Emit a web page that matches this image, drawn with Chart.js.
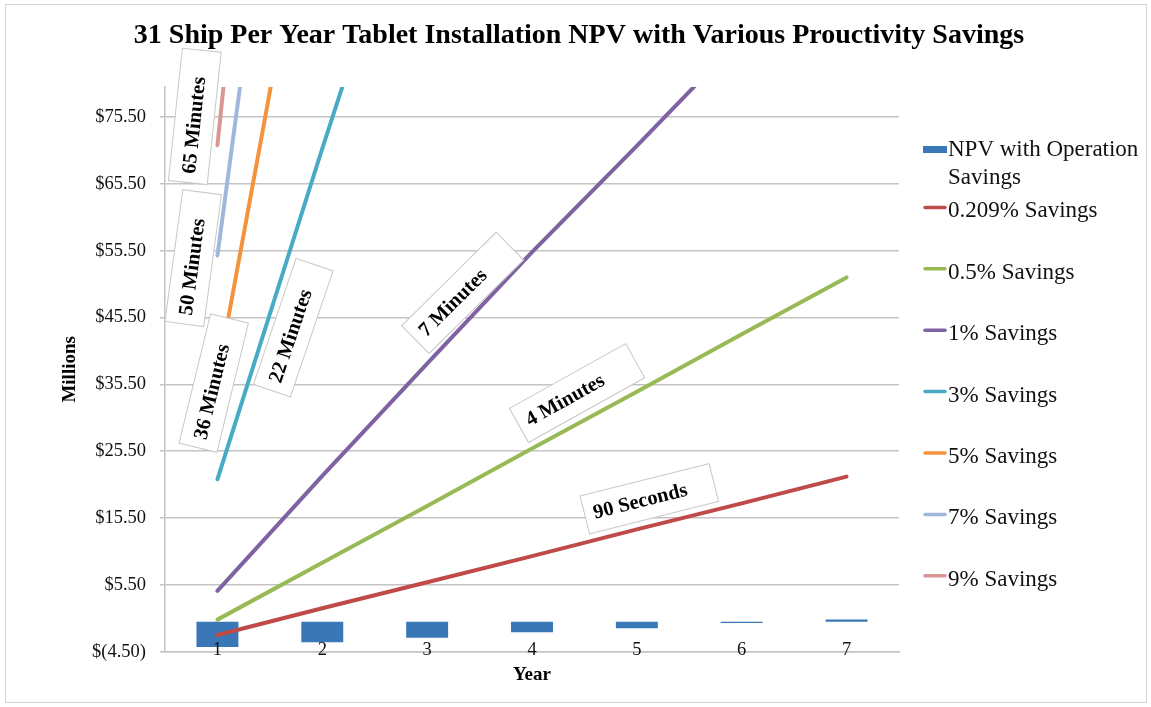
<!DOCTYPE html>
<html>
<head>
<meta charset="utf-8">
<title>31 Ship Per Year Tablet Installation NPV</title>
<script src="https://cdn.jsdelivr.net/npm/chart.js@4/dist/chart.umd.min.js"></script>
<style>
  html, body { margin: 0; padding: 0; background: #fff; }
  #npvChart { display: block; }
</style>
</head>
<body>
<canvas id="npvChart" width="1151" height="707"></canvas>
<script>
// years on the x axis, NPV in millions on the y axis
const years = ["1", "2", "3", "4", "5", "6", "7"];
const yTicks = [-4.5, 5.5, 15.5, 25.5, 35.5, 45.5, 55.5, 65.5, 75.5];

const npvOperation = [-3.8, -3.1, -2.4, -1.6, -1.0, -0.2, 0.3];
const save0209 = [-2.0, 2.0, 5.9, 9.8, 13.8, 17.7, 21.7];
const save05 = [0.3, 8.8, 17.3, 25.9, 34.4, 43.0, 51.5];
const save1 = [4.6, 21.8, 38.6, 55.3, 71.2, 87.4, null];
const save3 = [21.3, 70.8, 119, null, null, null, null];
const save5 = [36.6, 122, null, null, null, null, null];
const save7 = [54.8, 172, null, null, null, null, null];
const save9 = [71.3, 222, null, null, null, null, null];

const seriesNames = ["NPV with Operation Savings", "0.209% Savings", "0.5% Savings", "1% Savings",
  "3% Savings", "5% Savings", "7% Savings", "9% Savings"];
const calloutText = ["65 Minutes", "50 Minutes", "36 Minutes", "22 Minutes", "7 Minutes", "4 Minutes", "90 Seconds"];
const chartTitle = '31 Ship Per Year Tablet Installation NPV with Various Prouctivity Savings';

const serif = '"Liberation Serif", "Times New Roman", Times, serif';

function money(v) {
  return v < 0 ? '$(' + Math.abs(v).toFixed(2) + ')' : '$' + v.toFixed(2);
}

function wrapWords(ctx, text, maxWidth) {
  let lines = [];
  let cur = '';
  text.split(' ').forEach(function (w) {
    let test = cur ? cur + ' ' + w : w;
    if (ctx.measureText(test).width > maxWidth && cur) {
      lines.push(cur);
      cur = w;
    } else {
      cur = test;
    }
  });
  lines.push(cur);
  return lines;
}

// white background, thin frame and the title across the whole canvas
const frame = {
  id: 'frame',
  beforeDraw(chart) {
    const ctx = chart.ctx;
    ctx.save();
    ctx.fillStyle = '#fff';
    ctx.fillRect(0, 0, chart.width, chart.height);
    ctx.strokeStyle = '#d4d4d4';
    ctx.lineWidth = 1;
    ctx.strokeRect(5.5, 4.5, chart.width - 10, chart.height - 9);
    ctx.fillStyle = '#000';
    ctx.font = 'bold 28px ' + serif;
    ctx.textAlign = 'center';
    ctx.textBaseline = 'middle';
    ctx.fillText(chartTitle, 579, 36);
    ctx.restore();
  }
};

// year numbers sit just above the bottom axis line, over the bars
const yearLabels = {
  id: 'yearLabels',
  afterDatasetsDraw(chart) {
    const ctx = chart.ctx;
    const xs = chart.scales.x;
    ctx.save();
    ctx.font = '18.5px ' + serif;
    ctx.fillStyle = '#111';
    ctx.textAlign = 'center';
    ctx.textBaseline = 'middle';
    chart.data.labels.forEach(function (lab, i) {
      ctx.fillText(lab, xs.getPixelForValue(i), xs.top - 2);
    });
    ctx.restore();
  }
};

// tilted text boxes next to the lines, placed in data units
const callouts = {
  id: 'callouts',
  afterDraw(chart, args, opts) {
    const ctx = chart.ctx;
    const xs = chart.scales.x, ys = chart.scales.y;
    ctx.save();
    ctx.font = 'bold 20.5px ' + serif;
    ctx.textBaseline = 'middle';
    ctx.textAlign = 'left';
    opts.spots.forEach(function (s, i) {
      const cx = xs.getPixelForValue(s.x);
      const cy = ys.getPixelForValue(s.y);
      ctx.save();
      ctx.translate(cx, cy);
      ctx.rotate(s.angle * Math.PI / 180);
      ctx.fillStyle = '#fff';
      ctx.fillRect(-opts.w / 2, -opts.h / 2, opts.w, opts.h);
      ctx.strokeStyle = '#c8c8c8';
      ctx.lineWidth = 1;
      ctx.strokeRect(-opts.w / 2, -opts.h / 2, opts.w, opts.h);
      ctx.fillStyle = '#000';
      ctx.fillText(calloutText[i], -opts.w / 2 + 9, 1);
      ctx.restore();
    });
    ctx.restore();
  }
};

// legend on the right, drawn from the datasets
const sideLegend = {
  id: 'sideLegend',
  afterDraw(chart) {
    const ctx = chart.ctx;
    const x0 = chart.chartArea.right + 24;
    let y = 150;
    ctx.save();
    ctx.font = '23px ' + serif;
    ctx.textBaseline = 'middle';
    ctx.textAlign = 'left';
    chart.data.datasets.forEach(function (ds) {
      if (ds.type === 'bar') {
        ctx.fillStyle = ds.backgroundColor;
        ctx.fillRect(x0, y - 4, 24, 7);
      } else {
        ctx.strokeStyle = ds.borderColor;
        ctx.lineWidth = 3.5;
        ctx.lineCap = 'round';
        ctx.beginPath();
        ctx.moveTo(x0 + 2, y - 4);
        ctx.lineTo(x0 + 22, y - 4);
        ctx.stroke();
      }
      ctx.fillStyle = '#111';
      wrapWords(ctx, ds.label, 198).forEach(function (t, i) {
        ctx.fillText(t, x0 + 25, y + i * 28);
      });
      y += 61.4;
    });
    ctx.restore();
  }
};

function lineSet(label, data, color) {
  return {
    type: 'line',
    label: label,
    data: data,
    borderColor: color,
    backgroundColor: color,
    borderWidth: 4,
    borderCapStyle: 'round',
    pointRadius: 0,
    pointHoverRadius: 0,
    tension: 0,
    order: 1
  };
}

window.addEventListener('load', function () {
  let context = document.querySelector('#npvChart').getContext('2d');
  new Chart(context, {
    data: {
      labels: years,
      datasets: [
        {
          type: 'bar',
          label: seriesNames[0],
          data: npvOperation,
          backgroundColor: '#3a77b6',
          borderWidth: 0,
          categoryPercentage: 0.8,
          barPercentage: 0.5,
          order: 2
        },
        lineSet(seriesNames[1], save0209, '#be4b48'),
        lineSet(seriesNames[2], save05, '#98b954'),
        lineSet(seriesNames[3], save1, '#7e62a1'),
        lineSet(seriesNames[4], save3, '#47abc5'),
        lineSet(seriesNames[5], save5, '#f5923e'),
        lineSet(seriesNames[6], save7, '#a0b7dc'),
        lineSet(seriesNames[7], save9, '#d99694')
      ]
    },
    options: {
      responsive: false,
      animation: false,
      layout: { padding: { left: 5, right: 252, top: 87, bottom: 0 } },
      plugins: {
        legend: { display: false },
        tooltip: { enabled: false },
        title: { display: false },
        callouts: {
          w: 133,
          h: 39,
          spots: [
            { x: -0.216, y: 75.6, angle: -84 },
            { x: -0.231, y: 54.4, angle: -82.3 },
            { x: -0.035, y: 35.7, angle: -76.3 },
            { x: 0.723, y: 44.0, angle: -71.3 },
            { x: 2.338, y: 49.2, angle: -44.7 },
            { x: 3.43, y: 34.2, angle: -29.1 },
            { x: 4.119, y: 18.4, angle: -14.1 }
          ]
        }
      },
      scales: {
        x: {
          grid: { display: false, drawTicks: false },
          border: { display: true, color: '#c4c4c4', width: 1.5 },
          ticks: { display: false },
          title: {
            display: true,
            text: 'Year',
            color: '#000',
            font: { family: serif, size: 19, weight: 'bold', lineHeight: 1.2 },
            padding: { top: 0, bottom: 20.6 }
          },
          afterFit: function (scale) { scale.height = 55.3; }
        },
        y: {
          min: -4.5,
          max: 80,
          afterBuildTicks: function (scale) {
            scale.ticks = yTicks.map(function (v) { return { value: v }; });
          },
          afterFit: function (scale) { scale.width = 160; },
          grid: { color: '#c4c4c4', lineWidth: 1.5, tickLength: 5 },
          border: { display: true, color: '#c4c4c4', width: 1.5 },
          ticks: {
            color: '#111',
            padding: 14,
            font: { family: serif, size: 18.5 },
            callback: function (v) { return money(v); }
          },
          title: {
            display: true,
            text: 'Millions',
            color: '#000',
            font: { family: serif, size: 19, weight: 'bold', lineHeight: 1.2 },
            padding: { top: 53.6, bottom: 0 }
          }
        }
      }
    },
    plugins: [frame, yearLabels, callouts, sideLegend]
  });
});
</script>
</body>
</html>
